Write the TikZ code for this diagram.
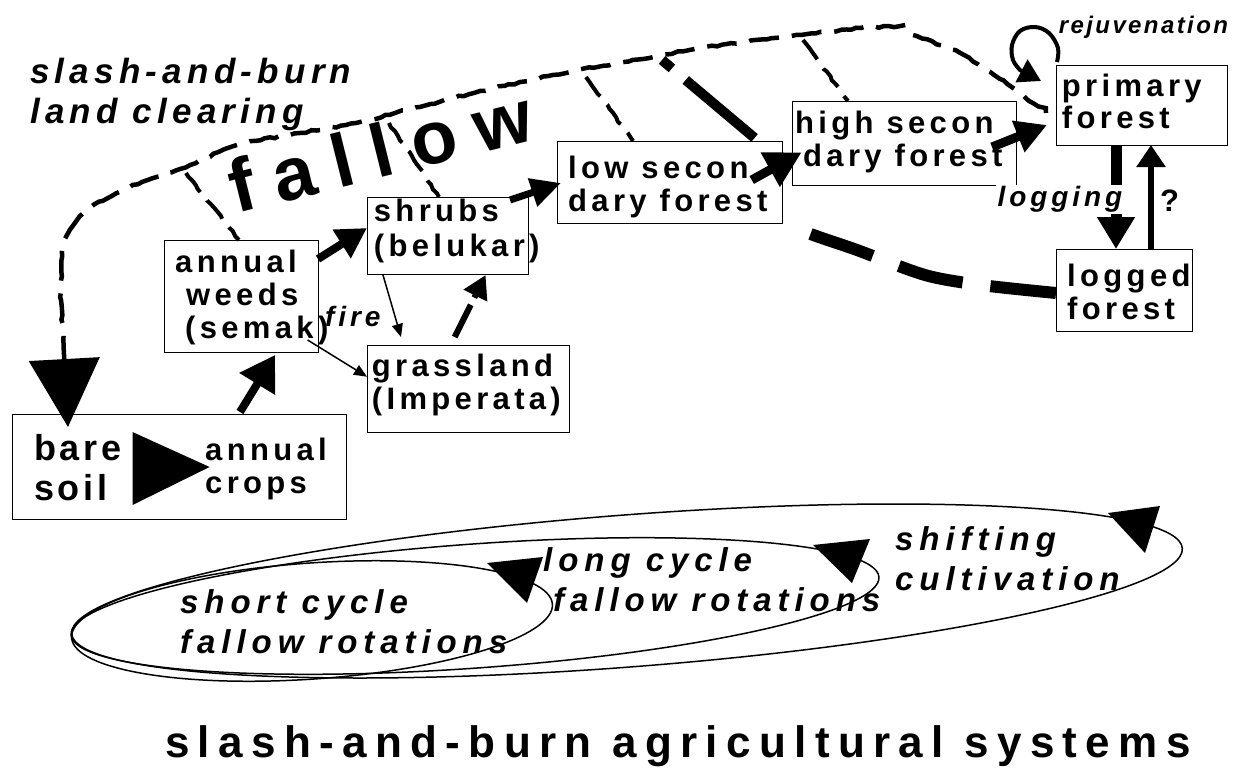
\documentclass[tikz,border=0pt]{standalone}
\usepackage{fontspec}
\setmainfont{Liberation Sans}
\newfontfamily\lsA[LetterSpace=14]{Liberation Sans}
\newfontfamily\lsB[LetterSpace=10]{Liberation Sans}
\newfontfamily\lsC[LetterSpace=18]{Liberation Sans}
\newfontfamily\lsD[LetterSpace=15]{Liberation Sans}
\newfontfamily\lsE[LetterSpace=26]{Liberation Sans}
\newfontfamily\lsF[LetterSpace=19]{Liberation Sans}
\newfontfamily\lsG[LetterSpace=10]{Liberation Sans}
\usetikzlibrary{arrows.meta,decorations.pathmorphing}
\newcommand\ml[1]{\begin{tabular}[t]{@{}l@{}}#1\end{tabular}}
\pgfmathsetseed{7}
\begin{document}
\begin{tikzpicture}[x=1pt,y=-1pt,
  box/.style={draw,line width=1.2pt,inner sep=0pt,anchor=north west},
  txt/.style={inner sep=0pt,anchor=base west},
  boxfont/.style={font=\lsA\bfseries\fontsize{31}{33}\selectfont},
  itfont/.style={font=\lsA\bfseries\itshape\fontsize{28}{33}\selectfont},
  ellfont/.style={font=\lsC\bfseries\itshape\fontsize{33}{40}\selectfont},
  jitter/.style={decorate,decoration={random steps,segment length=5pt,amplitude=0.9pt,#1}},
  jitter/.default={},
  dashcurve/.style={line width=4.5pt,dash pattern=on 30pt off 13pt},
  branch/.style={line width=4pt,dash pattern=on 24pt off 11pt,jitter},
  fat/.style={line width=#1},
  thinarrow/.style={line width=1.5pt,-{Triangle[length=13pt,width=11pt]}},
  ell/.style={line width=1.5pt}
]
\useasboundingbox (0,0) rectangle (1234,773);

% ---------- boxes ----------
\node[box,minimum width=334pt,minimum height=105pt] (bare) at (12,414) {};
\node[box,minimum width=154pt,minimum height=112pt] (weeds) at (164,240) {};
\node[box,minimum width=161pt,minimum height=77pt] (shrubs) at (367,197) {};
\node[box,minimum width=202pt,minimum height=87pt] (grass) at (367,345) {};
\node[box,minimum width=225pt,minimum height=82pt] (low) at (557,141) {};
\node[box,minimum width=224pt,minimum height=84pt] (high) at (792,101) {};
\node[box,minimum width=171pt,minimum height=80pt] (primary) at (1056,65) {};
\node[box,minimum width=136pt,minimum height=82pt] (logged) at (1056,249) {};

% ---------- box texts ----------
\node[txt,font=\lsB\bfseries\fontsize{36}{40}\selectfont] (bareT) at (34,460) {\ml{bare\\soil}};
\node[txt,boxfont] (cropsT) at (205,460) {\ml{annual\\crops}};
\node[txt,boxfont] (weedsT) at (175,272.7) {\ml{annual\\\hspace*{11pt}weeds\\\hspace*{10pt}(semak)}};
\node[txt,font=\lsA\bfseries\fontsize{31}{35}\selectfont] (shrubsT) at (373.7,221.7) {\ml{shrubs\\(belukar)}};
\node[txt,boxfont] (grassT) at (371.7,376.7) {\ml{grassland\\(Imperata)}};
\node[txt,boxfont] (lowT) at (568,178.3) {\ml{low secon\\dary forest}};
\node[txt,boxfont] (highT) at (795,133.3) {\ml{high secon\\\hspace*{8pt}dary forest}};
\node[txt,font=\lsA\bfseries\fontsize{31}{30}\selectfont] (primaryT) at (1061.7,96.7) {\ml{primary\\forest}};
\node[txt,boxfont] (loggedT) at (1067,286.7) {\ml{logged\\forest}};

% bare soil -> annual crops
\fill (132.5,432) -- (132.5,505) -- (209.6,467) -- cycle;

% ---------- solid arrows ----------
\draw[fat=8pt,-{Triangle[length=34pt,width=40pt]}] ([shift={(228,-2)}]bare.north west) -- ([shift={(111,115)}]weeds.north west);
\draw[fat=8pt,-{Triangle[length=30pt,width=32pt]}] ([shift={(154,19)}]weeds.north west) -- ([shift={(0,31)}]shrubs.north west);
\draw[fat=7pt,-{Triangle[length=30pt,width=28pt]}] ([shift={(143,3)}]shrubs.north west) -- ([shift={(4,42)}]low.north west);
\draw[fat=9pt,-{Triangle[length=36pt,width=37pt]}] ([shift={(194.7,39)}]low.north west) -- ([shift={(9.7,51.3)}]high.north west);
\draw[fat=9pt,-{Triangle[length=31pt,width=32pt]}] ([shift={(200,46)}]high.north west) -- ([shift={(-9,60)}]primary.north west);
\draw[fat=11pt,-{Triangle[length=32pt,width=36pt]}] ([shift={(60,80)}]primary.north west) -- ([shift={(60,0)}]logged.north west);
\draw[fat=6pt,-{Triangle[length=22pt,width=28pt]}] ([shift={(95,0)}]logged.north west) -- ([shift={(95,80)}]primary.north west);

% thin arrows
\draw[thinarrow] ([shift={(15.7,77)}]shrubs.north west) -- ([shift={(34,-8)}]grass.north west);
\draw[thinarrow] ([shift={(143.6,100)}]weeds.north west) -- ([shift={(0,31.7)}]grass.north west);

% grassland -> shrubs (dashed)
\draw[fat=6pt,dash pattern=on 36pt off 8pt,-{Triangle[length=23pt,width=25pt]}] ([shift={(87.7,-8)}]grass.north west) -- ([shift={(118.6,78)}]shrubs.north west);

% logged -> low secondary (thick dashed)
\coordinate (lgA) at ([shift={(0,44)}]logged.north west);
\coordinate (lgB) at ([shift={(237,76)}]low.north west);
\draw[fat=12pt,dash pattern=on 66pt off 28pt] plot[smooth,tension=0.5] coordinates {(lgA) (981,285) (925,275) (857,250) (801,230) (lgB)};

% ---------- big slash-and-burn curve ----------
\coordinate (topEnd) at ([shift={(-10,48)}]primary.north west);
\coordinate (bareTip) at ([shift={(56,13)}]bare.north west);
\draw[dashcurve,jitter={post length=80pt},-{Triangle[length=68pt,width=70pt]}] plot[smooth,tension=0.5] coordinates {(topEnd) (1016,90) (990,72) (960,53) (917,36) (904,27) (861,28) (801,35) (702,48) (624,62) (553,75) (474,93) (395,113) (356,123) (300,133) (237,145) (190,165) (130,187) (91,207) (70,230) (62,252) (61,300)} -- (bareTip);

% fallow branches
\draw[branch] (186,173) -- ([shift={(75,0)}]weeds.north west);
\draw[branch] (389,123) -- ([shift={(72,0)}]shrubs.north west);
\draw[branch] (586,77) -- ([shift={(76,0)}]low.north west);
\draw[branch] (803,40) -- ([shift={(56,0)}]high.north west);
\draw[fat=10pt,dash pattern=on 13pt off 18pt on 90pt off 10pt] (662,60) -- ([shift={(200,-1)}]low.north west);

% rejuvenation loop
\coordinate (rjA) at ([shift={(1,-3)}]primary.north west);
\coordinate (rjTip) at ([shift={(-15,16)}]primary.north west);
\draw[line width=4pt,-{Triangle[length=22pt,width=25pt]}] plot[smooth,tension=0.6] coordinates {(rjA) (1058,48) (1049,33) (1035,27) (1020,31) (1012,45) (1013,60) (1020,70)} -- (rjTip);

% ---------- labels ----------
\node[txt,itfont] (fireT) at (325,326.7) {fire};
\node[txt,itfont,fill=white,inner sep=1.5pt] (loggingT) at (996,206.7) {logging};
\node[txt,font=\bfseries\fontsize{31}{33}\selectfont] (qT) at (1160,211.7) {?};
\node[txt,font=\lsG\bfseries\itshape\fontsize{24}{28}\selectfont] (rejT) at (1058.7,33.3) {rejuvenation};
\node[txt,font=\lsD\bfseries\itshape\fontsize{35}{40}\selectfont] (sabT) at (30,83.3) {\ml{slash-and-burn\\land clearing}};
\node[txt,rotate=14,font=\lsE\bfseries\fontsize{75}{80}\selectfont] (fallowT) at (236,214) {fallow};

% ---------- ellipses ----------
\draw[ell,rotate around={4.4:(627,591)}] (627,591) ellipse [x radius=557pt,y radius=76pt];
\draw[ell,rotate around={4.1:(475,606)}] (475,606) ellipse [x radius=405pt,y radius=62pt];
\draw[ell,rotate around={4:(312,621)}] (312,621) ellipse [x radius=241pt,y radius=58pt];
\fill (487,563) -- (543,557) -- (527,603) -- cycle;
\fill (813,545) -- (870,539) -- (852,583) -- cycle;
\fill (1108,513) -- (1160,506) -- (1145,553) -- cycle;

\node[txt,ellfont] (shortT) at (180,613.3) {\ml{short cycle\\fallow rotations}};
\node[txt,ellfont] (longT) at (543,571.7) {\ml{long cycle\\\hspace*{10pt}fallow rotations}};
\node[txt,ellfont] (shiftT) at (895,550) {\ml{shifting\\cultivation}};

% title
\node[txt,font=\lsF\bfseries\fontsize{44}{50}\selectfont] (titleT) at (165,757) {slash-and-burn agricultural systems};
\end{tikzpicture}
\end{document}
